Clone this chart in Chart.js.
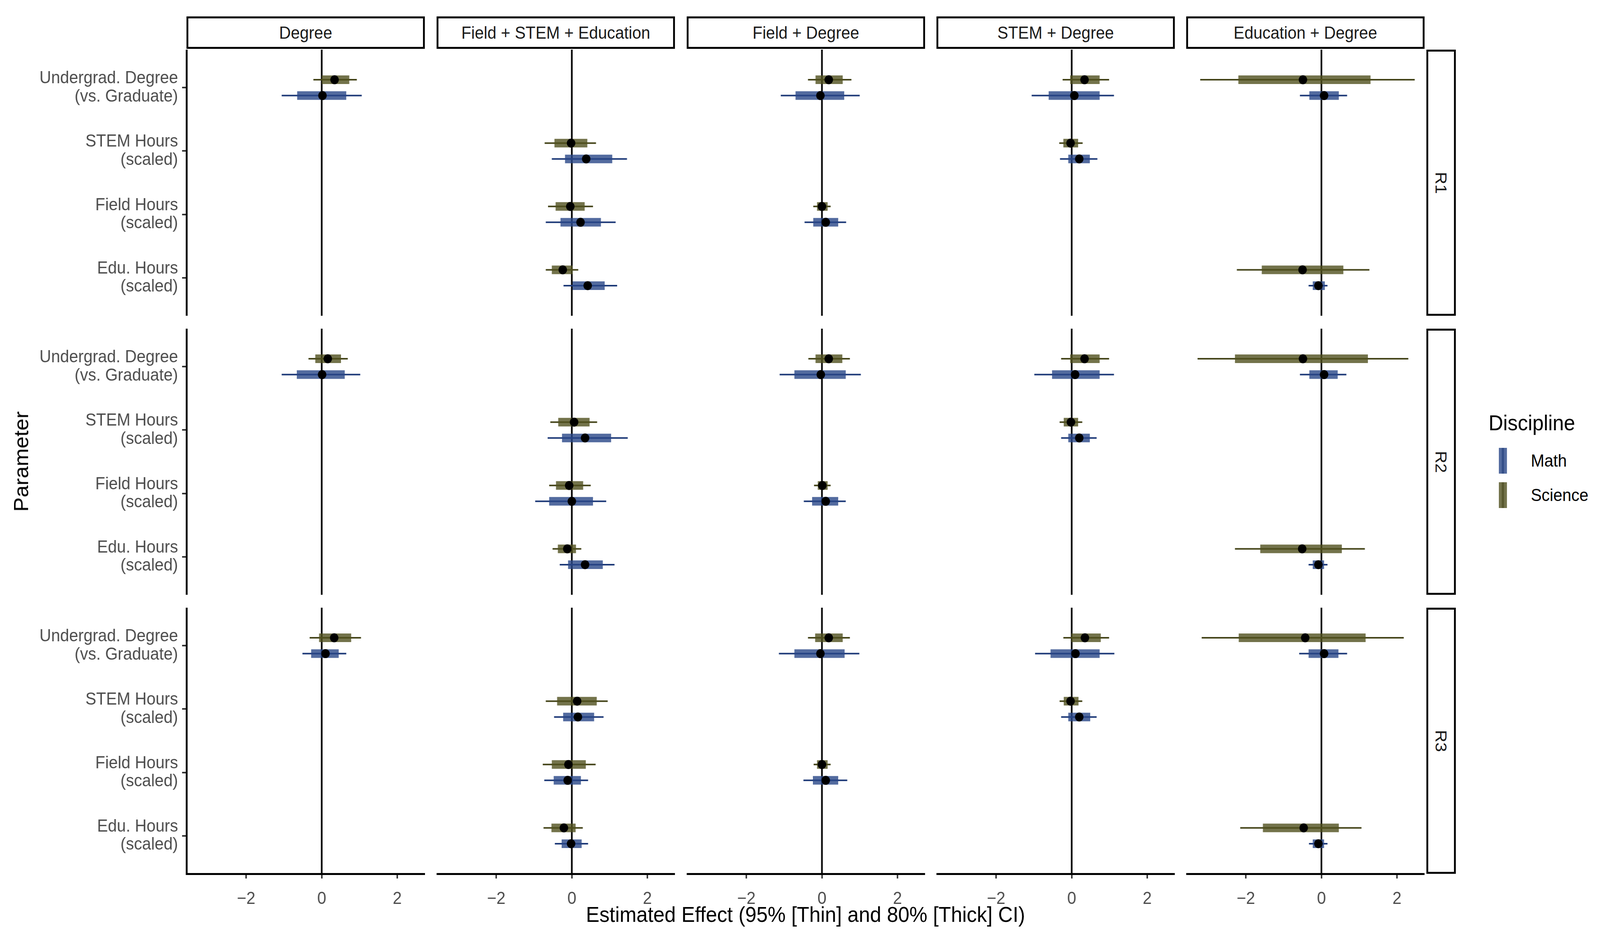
<!DOCTYPE html>
<html>
<head>
<meta charset="utf-8">
<script src="https://cdn.jsdelivr.net/npm/chart.js@4.4.1/dist/chart.umd.min.js"></script>
<style>
  html, body { margin: 0; background: #fff; overflow: hidden; font-family: "Liberation Sans", Arial, sans-serif; }
  #page { position: relative; width: 4350px; height: 2390px; overflow: hidden; background: #fff; transform-origin: 0 0; }
  canvas { position: absolute; }
  .strip { position: absolute; box-sizing: border-box; border: 5px solid #000; background: #fff;
           display: flex; align-items: center; justify-content: center; font-size: 44px; color: #1a1a1a; }
  .txt { position: absolute; white-space: nowrap; line-height: 1; }
  .key { position: absolute; width: 22px; }
  .key div { position: absolute; left: 8px; width: 6px; top: 0; bottom: 0; }
</style>
</head>
<body>
<div id="page"></div>
<script>
// ----- data -----

const models = ["Degree", "Field + STEM + Education", "Field + Degree", "STEM + Degree", "Education + Degree"];
const paramLabels = [
  ["Undergrad. Degree", "(vs. Graduate)"],
  ["STEM Hours", "(scaled)"],
  ["Field Hours", "(scaled)"],
  ["Edu. Hours", "(scaled)"],
];
const rowLabels = ["R1", "R2", "R3"];
const xTicks = [-2, 0, 2];

// [model, parameter, estimate, lo95, lo80, hi80, hi95]
const r1Math = [
  [0, 0,  0.02, -1.06, -0.65, 0.65, 1.06],
  [1, 1,  0.38, -0.53, -0.18, 1.07, 1.46],
  [1, 2,  0.23, -0.69, -0.30, 0.77, 1.16],
  [1, 3,  0.42, -0.22,  0.02, 0.87, 1.20],
  [2, 0, -0.04, -1.09, -0.70, 0.59, 1.00],
  [2, 2,  0.10, -0.46, -0.23, 0.43, 0.64],
  [3, 0,  0.07, -1.06, -0.61, 0.74, 1.12],
  [3, 1,  0.20, -0.31, -0.09, 0.48, 0.68],
  [4, 0,  0.07, -0.57, -0.32, 0.46, 0.68],
  [4, 3, -0.08, -0.34, -0.23, 0.09, 0.16],
];
const r1Science = [
  [0, 0,  0.34, -0.22,  0.00, 0.73, 0.93],
  [1, 1, -0.02, -0.72, -0.46, 0.41, 0.64],
  [1, 2, -0.04, -0.63, -0.43, 0.34, 0.56],
  [1, 3, -0.24, -0.69, -0.53, 0.02, 0.17],
  [2, 0,  0.18, -0.37, -0.17, 0.55, 0.78],
  [2, 2,  0.00, -0.23, -0.13, 0.15, 0.23],
  [3, 0,  0.34, -0.24, -0.04, 0.74, 0.99],
  [3, 1, -0.03, -0.33, -0.22, 0.17, 0.29],
  [4, 0, -0.49, -3.21, -2.20, 1.30, 2.47],
  [4, 3, -0.50, -2.24, -1.58, 0.58, 1.27],
];
const r2Math = [
  [0, 0,  0.01, -1.06, -0.66, 0.61, 1.02],
  [1, 1,  0.35, -0.64, -0.26, 1.04, 1.48],
  [1, 2,  0.00, -0.97, -0.60, 0.56, 0.91],
  [1, 3,  0.35, -0.32, -0.10, 0.82, 1.13],
  [2, 0, -0.03, -1.12, -0.73, 0.63, 1.03],
  [2, 2,  0.10, -0.48, -0.26, 0.43, 0.63],
  [3, 0,  0.09, -0.99, -0.52, 0.74, 1.12],
  [3, 1,  0.20, -0.28, -0.09, 0.48, 0.66],
  [4, 0,  0.07, -0.57, -0.32, 0.43, 0.66],
  [4, 3, -0.08, -0.34, -0.23, 0.07, 0.16],
];
const r2Science = [
  [0, 0,  0.16, -0.35, -0.17, 0.51, 0.69],
  [1, 1,  0.06, -0.57, -0.36, 0.47, 0.67],
  [1, 2, -0.07, -0.60, -0.42, 0.30, 0.50],
  [1, 3, -0.12, -0.51, -0.37, 0.11, 0.25],
  [2, 0,  0.18, -0.36, -0.17, 0.54, 0.74],
  [2, 2,  0.01, -0.21, -0.11, 0.15, 0.23],
  [3, 0,  0.34, -0.28, -0.04, 0.74, 0.99],
  [3, 1, -0.02, -0.32, -0.21, 0.17, 0.28],
  [4, 0, -0.49, -3.28, -2.29, 1.23, 2.30],
  [4, 3, -0.51, -2.29, -1.62, 0.54, 1.15],
];
const r3Math = [
  [0, 0,  0.10, -0.51, -0.28, 0.45, 0.65],
  [1, 1,  0.16, -0.47, -0.23, 0.59, 0.84],
  [1, 2, -0.11, -0.73, -0.48, 0.24, 0.43],
  [1, 3, -0.02, -0.45, -0.27, 0.26, 0.43],
  [2, 0, -0.04, -1.14, -0.73, 0.60, 0.99],
  [2, 2,  0.10, -0.49, -0.24, 0.43, 0.67],
  [3, 0,  0.10, -0.97, -0.56, 0.74, 1.13],
  [3, 1,  0.20, -0.28, -0.09, 0.49, 0.66],
  [4, 0,  0.07, -0.59, -0.34, 0.45, 0.68],
  [4, 3, -0.08, -0.33, -0.23, 0.07, 0.16],
];
const r3Science = [
  [0, 0,  0.33, -0.32, -0.07, 0.78, 1.04],
  [1, 1,  0.14, -0.69, -0.39, 0.66, 0.95],
  [1, 2, -0.09, -0.77, -0.53, 0.37, 0.63],
  [1, 3, -0.21, -0.75, -0.54, 0.10, 0.29],
  [2, 0,  0.18, -0.37, -0.18, 0.55, 0.74],
  [2, 2,  0.00, -0.22, -0.13, 0.15, 0.23],
  [3, 0,  0.35, -0.22, -0.01, 0.77, 0.99],
  [3, 1, -0.03, -0.32, -0.21, 0.18, 0.28],
  [4, 0, -0.43, -3.17, -2.19, 1.17, 2.18],
  [4, 3, -0.47, -2.15, -1.55, 0.46, 1.06],
];

const mathRows    = [r1Math, r2Math, r3Math];
const scienceRows = [r1Science, r2Science, r3Science];

// ----- layout / style (in 4350 x 2390 design pixels) -----

const DESIGN_W = 4350, DESIGN_H = 2390;
const FONT = '"Liberation Sans", Arial, sans-serif';
const panelLeft = [507, 1187, 1867, 2546, 3225];
const panelW = 648;
const rowTop = [127, 841, 1555];
const panelH = 681;
const yAxisW = 507;
const xAxisH = 100;
const xMin = -3.58, xMax = 2.73;
const yMin = 0.4,  yMax = 4.6;
const dodge = 0.125;

const disciplines = [
  { name: "Science", rows: scienceRows, off: -dodge, thin: "#45451a", thick: "rgba(80,80,30,0.80)" },
  { name: "Math",    rows: mathRows,    off:  dodge, thin: "#1e3a78", thick: "rgba(40,70,135,0.80)" },
];

const page = document.getElementById("page");

//fit the design to whatever viewport we actually get
function fitPage() {
  const sx = window.innerWidth / DESIGN_W;
  const sy = window.innerHeight / DESIGN_H;
  page.style.transform = `scale(${sx}, ${sy})`;
}
fitPage();

function addText(text, x, y, size, opts = {}) {
  const d = document.createElement("div");
  d.className = "txt";
  d.textContent = text;
  d.style.left = x + "px";
  d.style.top = y + "px";
  d.style.fontSize = size + "px";
  d.style.color = opts.color || "#000";
  d.style.transform = opts.transform || "translate(0,-50%)";
  page.appendChild(d);
  return d;
}

function zeroPadding(s) {
  s.paddingLeft = s.paddingRight = s.paddingTop = s.paddingBottom = 0;
}

function buildPanel(r, c) {
  const canvas = document.createElement("canvas");
  const showY = c === 0, showX = r === 2;
  const left = showY ? 0 : panelLeft[c];
  const w = showY ? panelLeft[0] + panelW : panelW;
  const h = showX ? panelH + xAxisH : panelH;
  canvas.width = w; canvas.height = h;
  canvas.style.left = left + "px"; canvas.style.top = rowTop[r] + "px";
  canvas.style.width = w + "px"; canvas.style.height = h + "px";
  page.appendChild(canvas);

  //zero reference line
  const datasets = [{
    type: "line",
    data: [{ x: 0, y: yMin }, { x: 0, y: yMax }],
    borderColor: "#000", borderWidth: 4.5, pointRadius: 0, order: 10,
  }];

  disciplines.forEach(d => {
    const rows = d.rows[r].filter(e => e[0] === c);
    rows.forEach(e => {
      const y = e[1] + 1 + d.off;
      //95% interval (thin)
      datasets.push({
        type: "line", data: [{ x: e[3], y }, { x: e[6], y }],
        borderColor: d.thin, borderWidth: 4, borderCapStyle: "butt", pointRadius: 0, order: 4,
      });
      //80% interval (thick)
      datasets.push({
        type: "line", data: [{ x: e[4], y }, { x: e[5], y }],
        borderColor: d.thick, borderWidth: 22, borderCapStyle: "butt", pointRadius: 0, order: 3,
      });
    });
    if (rows.length) {
      datasets.push({
        type: "scatter",
        data: rows.map(e => ({ x: e[2], y: e[1] + 1 + d.off })),
        backgroundColor: "#000", borderWidth: 0, pointRadius: 11.5, order: 1,
      });
    }
  });

  new Chart(canvas, {
    type: "scatter",
    data: { datasets },
    options: {
      responsive: false,
      animation: false,
      devicePixelRatio: 1,
      layout: { padding: 0, autoPadding: false },
      plugins: { legend: { display: false }, tooltip: { enabled: false } },
      scales: {
        x: {
          type: "linear", min: xMin, max: xMax, display: showX,
          afterBuildTicks: s => { s.ticks = xTicks.map(v => ({ value: v })); },
          afterFit: s => { s.height = showX ? xAxisH : 0; zeroPadding(s); },
          ticks: {
            callback: v => (v < 0 ? "\u2212" + Math.abs(v) : String(v)),
            font: { size: 44, family: FONT, lineHeight: 1 }, color: "#4d4d4d",
            padding: 31, autoSkip: false, maxRotation: 0,
          },
          grid: { display: true, drawOnChartArea: false, drawTicks: true, tickLength: 12, color: "#333", lineWidth: 4 },
          border: { display: true, color: "#000", width: 5 },
        },
        y: {
          type: "linear", min: yMin, max: yMax, reverse: true, display: showY,
          afterBuildTicks: s => { s.ticks = paramLabels.map((_, i) => ({ value: i + 1 })); },
          afterFit: s => { s.width = showY ? yAxisW : 0; zeroPadding(s); },
          ticks: {
            callback: v => paramLabels[v - 1],
            font: { size: 44, family: FONT, lineHeight: 1.05 }, color: "#4d4d4d",
            padding: 11, autoSkip: false,
          },
          grid: { display: true, drawOnChartArea: false, drawTicks: true, tickLength: 12, color: "#333", lineWidth: 4 },
          border: { display: true, color: "#000", width: 5 },
        },
      },
    },
  });
}

for (let r = 0; r < 3; r++) {
  for (let c = 0; c < 5; c++) buildPanel(r, c);
}

// column strips
models.forEach((m, c) => {
  const s = document.createElement("div");
  s.className = "strip";
  s.style.left = panelLeft[c] + "px"; s.style.top = "42px";
  s.style.width = panelW + "px"; s.style.height = "83px";
  s.textContent = m;
  page.appendChild(s);
});

// row strips
rowLabels.forEach((lab, r) => {
  const s = document.createElement("div");
  s.className = "strip";
  s.style.left = "3878px"; s.style.top = rowTop[r] + "px";
  s.style.width = "80px"; s.style.height = panelH + "px";
  const t = document.createElement("span");
  t.textContent = lab;
  t.style.transform = "rotate(90deg)";
  t.style.display = "inline-block";
  s.appendChild(t);
  page.appendChild(s);
});

// axis titles
addText("Estimated Effect (95% [Thin] and 80% [Thick] CI)", 2190, 2340, 55, { transform: "translate(-50%,-50%)" });
addText("Parameter", 58, 1181, 55, { transform: "translate(-50%,-50%) rotate(-90deg)" });

// legend
addText("Discipline", 4047, 1082, 55);
const legendKeys = [
  { label: "Math",    top: 1146, thin: "#1e3a78", thick: "rgba(40,70,135,0.80)" },
  { label: "Science", top: 1234, thin: "#45451a", thick: "rgba(80,80,30,0.80)" },
];
legendKeys.forEach(k => {
  const key = document.createElement("div");
  key.className = "key";
  key.style.left = "4075px"; key.style.top = k.top + "px"; key.style.height = "66px";
  key.style.background = k.thick;
  const inner = document.createElement("div");
  inner.style.background = k.thin;
  inner.style.opacity = "0.6";
  key.appendChild(inner);
  page.appendChild(key);
  addText(k.label, 4162, k.top + 33, 44);
});
</script>
</body>
</html>
